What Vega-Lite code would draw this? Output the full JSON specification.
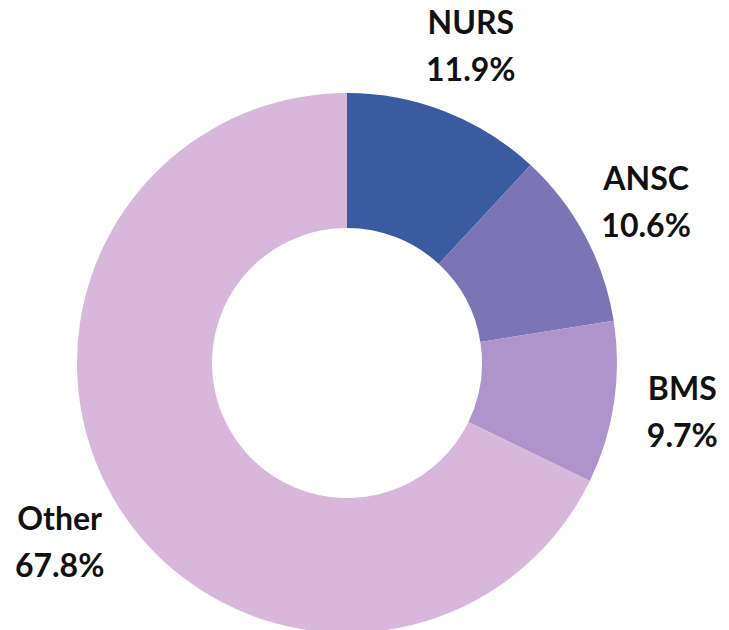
{
  "$schema": "https://vega.github.io/schema/vega-lite/v6.json",
  "width": 694,
  "height": 726,
  "padding": {"left": 0, "top": 0, "right": 35, "bottom": 0},
  "autosize": {"type": "none"},
  "background": "white",
  "view": {"stroke": null},
  "data": {
    "values": [
      {"cat": "NURS", "pct": 11.9, "ord": 1, "label": "NURS\n11.9%"},
      {"cat": "ANSC", "pct": 10.6, "ord": 2, "label": "ANSC\n10.6%"},
      {"cat": "BMS", "pct": 9.7, "ord": 3, "label": "BMS\n9.7%"},
      {"cat": "Other", "pct": 67.8, "ord": 4, "label": "Other\n67.8%"}
    ]
  },
  "encoding": {
    "theta": {"field": "pct", "type": "quantitative", "stack": true},
    "order": {"field": "ord", "type": "quantitative"}
  },
  "layer": [
    {
      "mark": {"type": "arc", "outerRadius": 270, "innerRadius": 135},
      "encoding": {
        "color": {
          "field": "cat",
          "type": "nominal",
          "scale": {"domain": ["NURS", "ANSC", "BMS", "Other"], "range": ["#3A5BA0", "#7B75B6", "#AD95CB", "#D9B7DD"]},
          "legend": null
        }
      }
    },
    {
      "mark": {"type": "text", "radius": 339, "dy": -23, "font": "Lato", "fontWeight": "bold", "fontSize": 32, "lineHeight": 47, "lineBreak": "\n", "align": "center", "baseline": "middle", "color": "#111111"},
      "encoding": {
        "text": {"field": "label", "type": "nominal"}
      }
    }
  ]
}
